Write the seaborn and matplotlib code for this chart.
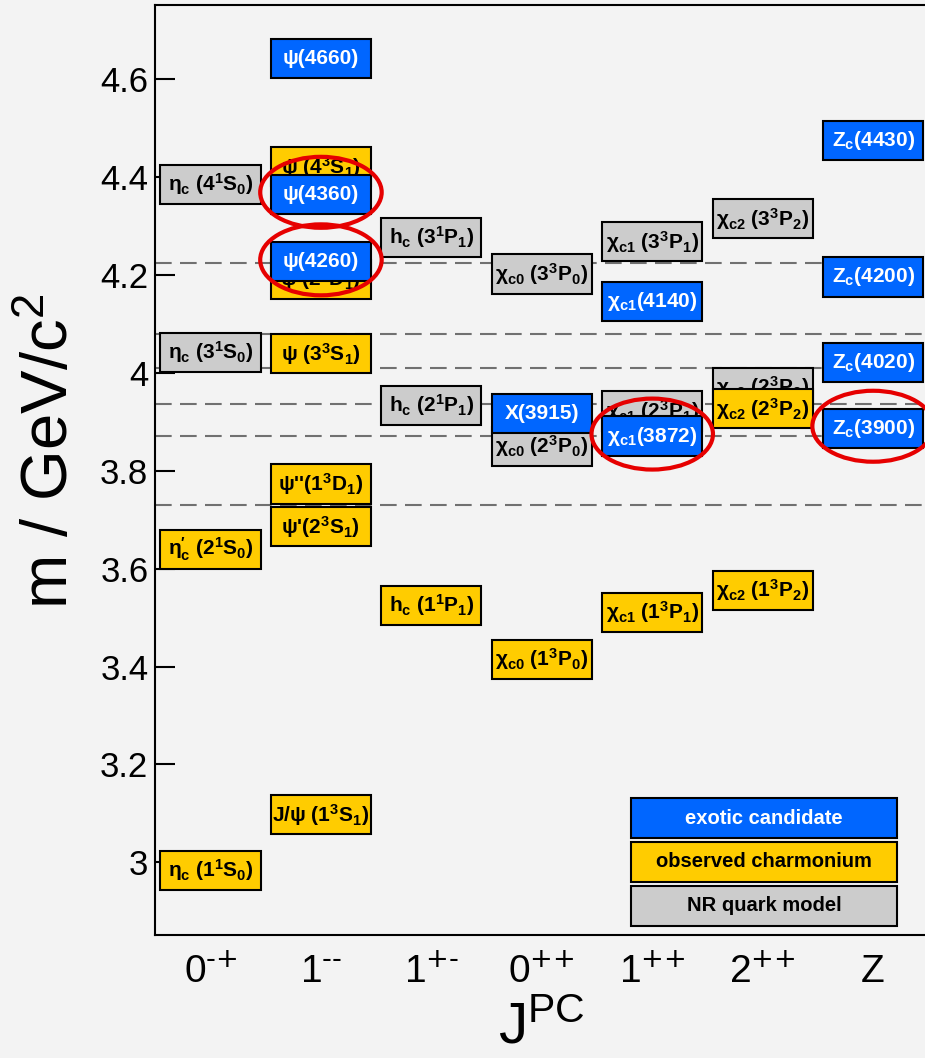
import matplotlib
matplotlib.use("Agg")
import matplotlib.pyplot as plt
import seaborn as sns
from matplotlib.patches import Rectangle, Ellipse

# ---------------- data ----------------
jpc_labels = [r"0$^{\text{-+}}$", r"1$^{\text{--}}$", r"1$^{\text{+-}}$", r"0$^{\text{++}}$",
              r"1$^{\text{++}}$", r"2$^{\text{++}}$", "Z"]

model_cols = [0, 0, 2, 2, 3, 3, 4, 4, 5, 5]
model_masses = [4.385, 4.042, 4.277, 3.934, 4.202, 3.850, 4.268, 3.922, 4.315, 3.971]
model_labels = [r"η$_c$ (4$^1$S$_0$)", r"η$_c$ (3$^1$S$_0$)",
                r"h$_c$ (3$^1$P$_1$)", r"h$_c$ (2$^1$P$_1$)",
                r"χ$_{c0}$ (3$^3$P$_0$)", r"χ$_{c0}$ (2$^3$P$_0$)",
                r"χ$_{c1}$ (3$^3$P$_1$)", r"χ$_{c1}$ (2$^3$P$_1$)",
                r"χ$_{c2}$ (3$^3$P$_2$)", r"χ$_{c2}$ (2$^3$P$_2$)"]

observed_cols = [0, 0, 1, 1, 1, 1, 1, 1, 2, 3, 4, 5, 5]
observed_masses = [3.639, 2.984, 4.421, 4.191, 4.039, 3.773, 3.686, 3.097,
                   3.525, 3.415, 3.511, 3.927, 3.556]
observed_labels = [r"η$^{\prime}_c$ (2$^1$S$_0$)", r"η$_c$ (1$^1$S$_0$)",
                   r"ψ (4$^3$S$_1$)", r"ψ (2$^3$D$_1$)", r"ψ (3$^3$S$_1$)",
                   r"ψ''(1$^3$D$_1$)", r"ψ'(2$^3$S$_1$)", r"J/ψ (1$^3$S$_1$)",
                   r"h$_c$ (1$^1$P$_1$)", r"χ$_{c0}$ (1$^3$P$_0$)",
                   r"χ$_{c1}$ (1$^3$P$_1$)", r"χ$_{c2}$ (2$^3$P$_2$)", r"χ$_{c2}$ (1$^3$P$_2$)"]

exotic_cols = [1, 1, 1, 3, 4, 4, 6, 6, 6, 6]
exotic_masses = [4.642, 4.365, 4.227, 3.917, 4.146, 3.871, 4.475, 4.196, 4.021, 3.887]
exotic_labels = ["ψ(4660)", "ψ(4360)", "ψ(4260)", "X(3915)",
                 r"χ$_{c1}$(4140)", r"χ$_{c1}$(3872)",
                 r"Z$_c$(4430)", r"Z$_c$(4200)", r"Z$_c$(4020)", r"Z$_c$(3900)"]

highlighted = ["ψ(4360)", "ψ(4260)", r"χ$_{c1}$(3872)", r"Z$_c$(3900)"]

thresholds = [4.224, 4.079, 4.011, 3.937, 3.871, 3.730]

legend_labels = ["exotic candidate", "observed charmonium", "NR quark model"]

yticks = [3.0, 3.2, 3.4, 3.6, 3.8, 4.0, 4.2, 4.4, 4.6]

# ---------------- style ----------------
BG = "#f3f3f3"
BLUE = "#0066ff"
YELLOW = "#ffcc00"
GRAY = "#cccccc"
RED = "#e60000"

sns.set_theme(style="ticks", rc={"axes.facecolor": BG, "figure.facecolor": BG,
                                 "axes.edgecolor": "black", "axes.linewidth": 1.5,
                                 "text.color": "black", "axes.labelcolor": "black",
                                 "xtick.color": "black", "ytick.color": "black"})
plt.rcParams["font.family"] = ["Liberation Sans", "DejaVu Sans"]
plt.rcParams["mathtext.default"] = "regular"

fig = plt.figure(figsize=(9.25, 10.58), dpi=100)
ax = fig.add_axes([155.3 / 925, 123 / 1058, 773 / 925, 930 / 1058])
ax.set_xlim(-0.5, 6.5)
ax.set_ylim(2.8515, 4.7517)

BW, BH = 0.906, 0.080

for t in thresholds:
    ax.axhline(t, color="#707070", lw=1.5, dashes=(8, 4), zorder=1)


def draw_boxes(cols, masses, labels, fc, tc, z):
    for c, m, lab in zip(cols, masses, labels):
        ax.add_patch(Rectangle((c - BW / 2, m - BH / 2), BW, BH, facecolor=fc,
                               edgecolor="black", lw=1.5, zorder=z))
        ax.text(c, m, lab, ha="center", va="center", color=tc, fontsize=15,
                fontweight="bold", zorder=z + 0.1)


draw_boxes(model_cols, model_masses, model_labels, GRAY, "black", 2)
draw_boxes(observed_cols, observed_masses, observed_labels, YELLOW, "black", 3)
draw_boxes(exotic_cols, exotic_masses, exotic_labels, BLUE, "white", 4)

for c, m, lab in zip(exotic_cols, exotic_masses, exotic_labels):
    if lab in highlighted:
        ax.add_patch(Ellipse((c, m + 0.004), 1.1, 0.145, facecolor="none",
                             edgecolor=RED, lw=3, zorder=6))

# legend boxes (axes coordinates)
leg_colors = [BLUE, YELLOW, GRAY]
leg_text_colors = ["white", "black", "black"]
leg_bottoms = [0.1043, 0.0570, 0.0097]
for lab, fc, tc, yb in zip(legend_labels, leg_colors, leg_text_colors, leg_bottoms):
    ax.add_patch(Rectangle((0.615, yb), 0.345, 0.043, transform=ax.transAxes,
                           facecolor=fc, edgecolor="black", lw=1.5, zorder=7))
    ax.text(0.7875, yb + 0.0215, lab, transform=ax.transAxes, ha="center", va="center",
            fontsize=14.5, fontweight="bold", color=tc, zorder=7.1)

ax.set_xticks(range(len(jpc_labels)))
ax.set_xticklabels(jpc_labels, fontsize=28)
ax.tick_params(axis="x", length=0, pad=14, labelcolor="black")
ax.set_yticks(yticks)
ax.set_yticklabels([f"{v:g}" for v in yticks], fontsize=25)
ax.tick_params(axis="y", direction="in", length=14.4, width=1.5, pad=5, right=False,
               labelcolor="black", color="black")

ax.set_ylabel(r"m / GeV/c$^2$", fontsize=47, color="black")
ax.yaxis.set_label_coords(-0.096, 0.52)
ax.set_xlabel(r"J$^{PC}$", fontsize=42, labelpad=8, color="black")

for s in ax.spines.values():
    s.set_linewidth(1.5)
    s.set_color("black")

fig.savefig("out.png", dpi=100, facecolor=BG)
